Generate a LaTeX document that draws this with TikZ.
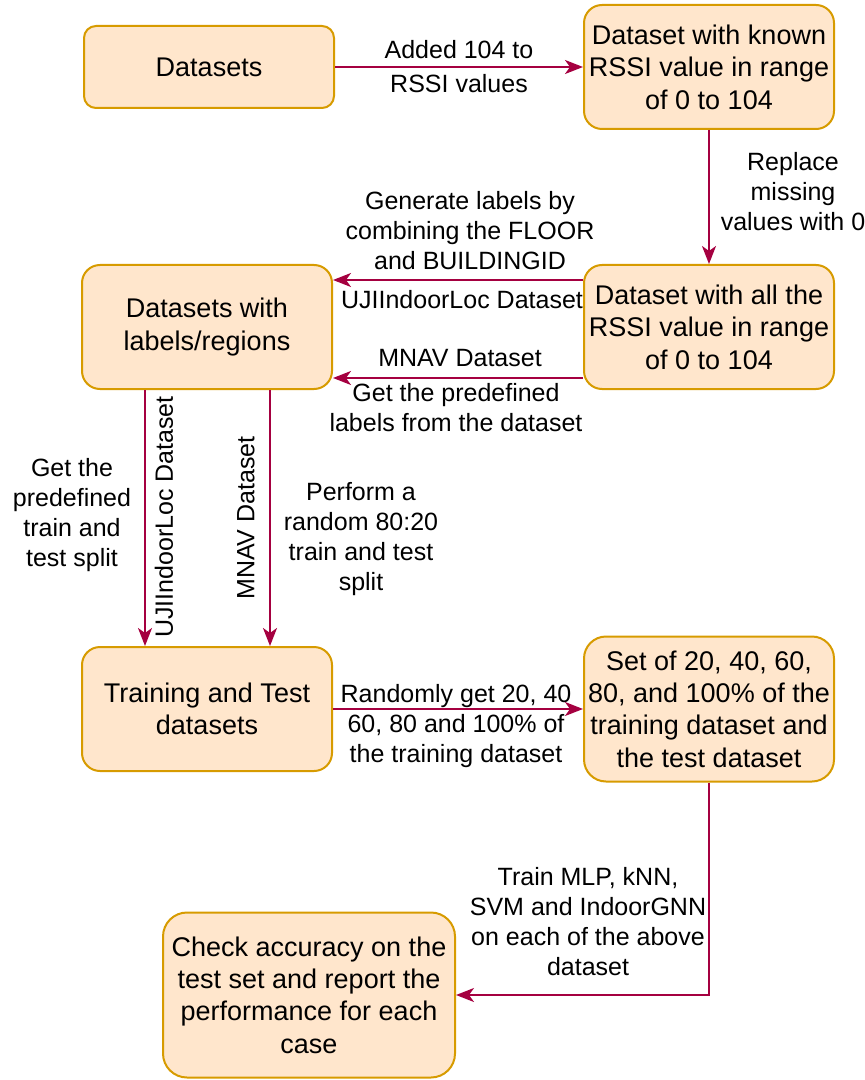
\documentclass[tikz,border=0pt]{standalone}
\usepackage{fontspec}
\setmainfont{Liberation Sans}
\usetikzlibrary{arrows.meta}
\definecolor{boxfill}{HTML}{FFE6CC}
\definecolor{boxdraw}{HTML}{D79B00}
\definecolor{arrowred}{HTML}{A50040}
\begin{document}
\begin{tikzpicture}[x=.5pt,y=-.5pt,
    hop/.style={draw=boxdraw,fill=boxfill,line width=1pt,rounded corners=9pt,
        align=center,inner sep=1pt,minimum width=125pt,minimum height=62pt,
        font=\fontsize{13.5}{16.2}\selectfont},
    nhan/.style={align=center,inner sep=0pt,font=\fontsize{12.5}{15}\selectfont},
    muiten/.style={draw=arrowred,line width=1pt,
        -{Stealth[length=9pt,width=7pt,inset=2.5pt]}}]
    \useasboundingbox (0,0) rectangle (864,1080);
    \path
    (209,67) node[hop,minimum height=41pt,rounded corners=6pt] (ds) {Datasets} % <<< hàng 1
    (709,67) node[hop] (known) {Dataset with known\\RSSI value in range\\of 0 to 104}
    (709,327) node[hop] (all) {Dataset with all the\\RSSI value in range\\of 0 to 104} % <<< hàng 2
    (207,327) node[hop] (lab) {Datasets with\\labels/regions}
    (207,709) node[hop] (trn) {Training and Test\\datasets} % <<< hàng 3
    (709,709) node[hop,minimum height=72.5pt,rounded corners=11pt] (set)
        {Set of 20, 40, 60,\\80, and 100\% of the\\training dataset and\\the test dataset}
    (309,995) node[hop,minimum width=146pt,minimum height=82.5pt,rounded corners=12pt] (chk)
        {Check accuracy on the\\test set and report the\\performance for each\\case}; % <<< hàng 4
    \path
    (793,192) node[nhan] (tRep) {Replace\\missing\\values with 0}
    (470,231) node[nhan] (tGen) {Generate labels by\\combining the FLOOR\\and BUILDINGID}
    (462,300) node[nhan] (tUji) {UJIIndoorLoc Dataset}
    (460,358) node[nhan] (tMna) {MNAV Dataset}
    (456,408) node[nhan] (tPre) {Get the predefined\\labels from the dataset}
    (72,515) node[nhan] (tSpl) {Get the\\predefined\\train and\\test split}
    (164,517) node[nhan,rotate=90] (tUjiV) {UJIIndoorLoc Dataset}
    (246,518) node[nhan,rotate=90] (tMnaV) {MNAV Dataset}
    (361,539) node[nhan] (tRnd) {Perform a\\random 80:20\\train and test\\split}
    (456,726) node[nhan] (tPct) {Randomly get 20, 40\\60, 80 and 100\% of\\the training dataset}
    (588,922) node[nhan] (tTrn) {Train MLP, kNN,\\SVM and IndoorGNN\\on each of the above\\dataset};
    \begin{scope}[muiten]
        \draw (ds)--node[nhan]{Added 104 to\\[2pt]RSSI values}(known);
        \draw (known)--(all);
        \draw ([yshift=23.5pt]all.west)--([yshift=23.5pt]lab.east);
        \draw ([yshift=-25.5pt]all.west)--([yshift=-25.5pt]lab.east);
        \draw ([xshift=-31pt]lab.south)--([xshift=-31pt]trn.north);
        \draw ([xshift=31.5pt]lab.south)--([xshift=31.5pt]trn.north);
        \draw (trn)--(set);
        \draw (set)|-(chk);
    \end{scope}
\end{tikzpicture}
\end{document}
